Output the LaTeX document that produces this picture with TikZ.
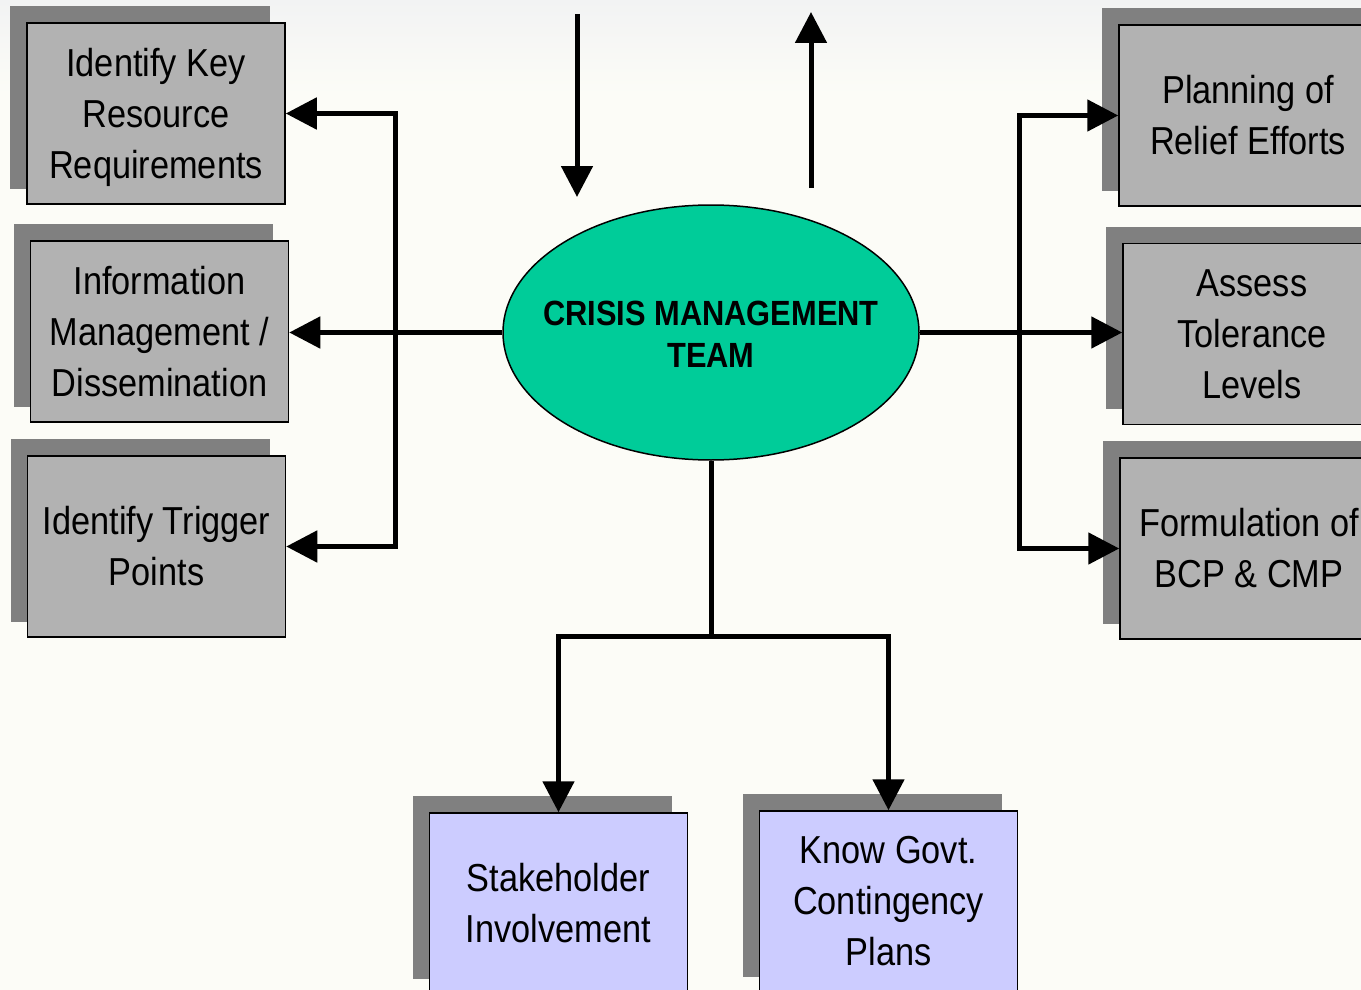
\documentclass[tikz,border=0pt]{standalone}
\usepackage{fontspec}
\setmainfont{Liberation Sans}[FakeStretch=0.88]
\usetikzlibrary{arrows.meta,shapes.geometric}
\definecolor{bgc}{RGB}{252,252,247}
\definecolor{bgtop}{RGB}{242,243,243}
\definecolor{boxgray}{RGB}{178,178,178}
\definecolor{shadowgray}{RGB}{128,128,128}
\definecolor{lav}{RGB}{204,204,255}
\definecolor{crisisgreen}{RGB}{0,204,153}
\pgfdeclarelayer{bglayer}
\pgfdeclarelayer{shadowlayer}
\pgfsetlayers{bglayer,shadowlayer,main}
\newcommand\mkshadow[1]{\fill[shadowgray] ([shift={(-16,-16)}]#1.south west) rectangle ([shift={(-16,-16)}]#1.north east);}
\newcommand\nodepth[1]{\raisebox{0pt}[\height][0pt]{#1}}
\begin{document}
\begin{tikzpicture}[x=1pt,y=-1pt,
  box/.style={draw=black, line width=1.5pt, fill=boxgray, minimum width=258pt, minimum height=181pt, inner sep=0pt, align=center, font=\fontsize{39}{51}\selectfont},
  lavbox/.style={box, fill=lav},
  conn/.style={line width=5pt},
  arr/.style={conn, -{Triangle[length=31pt,width=31pt]}},
  crisis/.style={ellipse, draw=black, line width=1.5pt, fill=crisisgreen, minimum width=416pt, minimum height=255pt, inner sep=0pt},
  crisistext/.style={align=center, inner sep=0pt, font=\bfseries\fontsize{35}{42}\selectfont}
]
\useasboundingbox (0,0) rectangle (1361,990);
\clip (0,0) rectangle (1361,990);

% nodes
\node[box] (L1) at (156,113.5) {Identify Key\\Resource\\\nodepth{Requirements}};
\node[box] (L2) at (159.5,331.5) {Information\\Management /\\Dissemination};
\node[box] (L3) at (156.5,546.5) {Identify Trigger\\Points};
\node[box] (R1) at (1248,115.5) {Planning of\\Relief Efforts};
\node[box] (R2) at (1252,334) {Assess\\Tolerance\\Levels};
\node[box] (R3) at (1249,548.5) {Formulation of\\BCP \& CMP};
\node[lavbox] (B1) at (558.5,903.5) {Stakeholder\\Involvement};
\node[lavbox] (B2) at (888.5,901.5) {Know Govt.\\Contingency\\Plans};
\node[crisis] (cmt) at (711,332.5) {};
\node[crisistext] (cmtlabel) at (711,334) {CRISIS MANAGEMENT\\TEAM};

% background and shadows
\begin{pgfonlayer}{bglayer}
  \fill[bgc] (0,0) rectangle (1361,990);
  \shade[top color=bgtop, bottom color=bgc] (0,0) rectangle (1361,95);
\end{pgfonlayer}
\begin{pgfonlayer}{shadowlayer}
  \mkshadow{L1}\mkshadow{L2}\mkshadow{L3}
  \mkshadow{R1}\mkshadow{R2}\mkshadow{R3}
  \mkshadow{B1}\mkshadow{B2}
\end{pgfonlayer}

% junction coordinates
\coordinate (lv) at (395,332.5);
\coordinate (rv) at (1019,332.5);
\coordinate (bj) at (711,636);
\coordinate (inS) at (577,14);
\coordinate (inE) at (577,197);
\coordinate (outS) at (811,188);
\coordinate (outE) at (811,12);

% left connectors
\draw[arr] (cmt.west) -- (cmt.west -| L2.east);
\draw[arr] (lv) |- (L1.east);
\draw[arr] (lv) |- (L3.east);
% right connectors
\draw[arr] (cmt.east) -- (cmt.east -| R2.west);
\draw[arr] (rv) |- (R1.west);
\draw[arr] (rv) |- (R3.west);
% bottom connectors
\draw[conn] (cmt.south) -- (bj);
\draw[arr] (bj) -| (B1.north);
\draw[arr] (bj) -| (B2.north);
% top arrows
\draw[arr] (inS) -- (inE);
\draw[arr] (outS) -- (outE);
\end{tikzpicture}
\end{document}
